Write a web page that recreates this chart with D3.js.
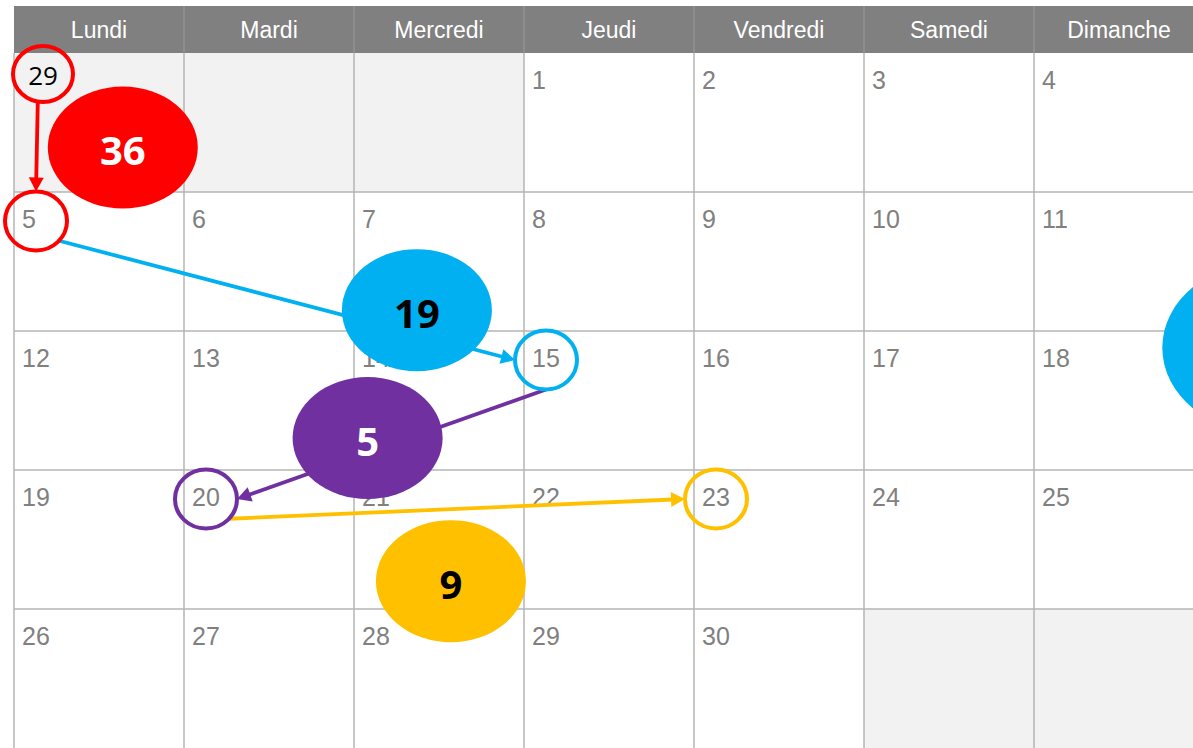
<!DOCTYPE html>
<html>
<head>
<meta charset="utf-8">
<script src="https://cdn.jsdelivr.net/npm/d3@7"></script>
<style>
  body { margin: 0; background: #fff; }
  svg { display: block; }
</style>
</head>
<body>
<svg id="cal"></svg>
<script>
const weekdays = ['Lundi', 'Mardi', 'Mercredi', 'Jeudi', 'Vendredi', 'Samedi', 'Dimanche'];
const weeks = [
  [null, null, null, 1, 2, 3, 4],
  [5, 6, 7, 8, 9, 10, 11],
  [12, 13, 14, 15, 16, 17, 18],
  [19, 20, 21, 22, 23, 24, 25],
  [26, 27, 28, 29, 30, null, null]
];

// circled dates (week row, weekday column)
const stopLabels = ['29', '5', '15', '20', '23'];
const stopWeek = [0, 1, 2, 3, 3];
const stopDow = [0, 0, 3, 1, 4];

// number of days for each leg + bubble placement in grid units
const legValues = [36, 19, 5, 9];
const legColors = ['#ff0000', '#00b0f0', '#7030a0', '#ffc000'];
const legText = ['#fff', '#000', '#fff', '#000'];
const bubbleCol = [0.64, 2.37, 2.08, 2.57];
const bubbleRow = [0.68, 1.85, 2.77, 3.80];

// bubble cut by the right edge
const extraCol = [7.39];
const extraRow = [2.12];

const W = 1193, H = 748;
const startAng = [100, 42, 90, 42];  // where each arrow leaves its ring
const endAng = [-90, 180, 0, 180];    // where it hits the next one

const svg = d3.select('#cal').attr('width', W).attr('height', H);

const x = d3.scaleLinear().domain([0, 7]).range([14, 1204]);
const y = d3.scaleLinear().domain([0, 5]).range([53, 748]);
const cw = x(1) - x(0), ch = y(1) - y(0);

// cells
const cells = [];
weeks.forEach((wk, w) => wk.forEach((d, i) => cells.push({ w, i, d })));

svg.append('g').selectAll('rect')
  .data(cells)
  .enter()
  .append('rect')
  .attr('x', c => x(c.i))
  .attr('y', c => y(c.w))
  .attr('width', cw)
  .attr('height', ch)
  .attr('fill', c => c.d === null ? '#f2f2f2' : '#fff');

const grid = svg.append('g').attr('stroke', '#b5b5b5').attr('stroke-width', 1.5);
grid.selectAll('.v').data(d3.range(8)).enter().append('line')
  .attr('x1', i => x(i)).attr('x2', i => x(i))
  .attr('y1', y(0)).attr('y2', H);
grid.selectAll('.h').data(d3.range(1, 5)).enter().append('line')
  .attr('x1', x(0)).attr('x2', x(7))
  .attr('y1', j => y(j)).attr('y2', j => y(j));

// header
svg.append('rect')
  .attr('x', x(0)).attr('y', 6)
  .attr('width', x(7) - x(0)).attr('height', y(0) - 6)
  .attr('fill', '#808080');
svg.append('g').selectAll('line')
  .data(d3.range(1, 7)).enter().append('line')
  .attr('x1', i => x(i)).attr('x2', i => x(i))
  .attr('y1', 6).attr('y2', y(0))
  .attr('stroke', '#929292').attr('stroke-width', 1.5);
svg.append('g').selectAll('text')
  .data(weekdays).enter().append('text')
  .attr('x', (d, i) => x(i + 0.5))
  .attr('y', 38)
  .attr('text-anchor', 'middle')
  .attr('fill', '#fff')
  .style('font', '23px "Liberation Sans", Arial, sans-serif')
  .text(d => d);

// day numbers
svg.append('g').selectAll('text')
  .data(cells.filter(c => c.d !== null)).enter().append('text')
  .attr('x', c => x(c.i) + 8)
  .attr('y', c => y(c.w) + 36)
  .attr('fill', '#808080')
  .style('font', '25px "Liberation Sans", Arial, sans-serif')
  .text(c => c.d);

// ring centres
const rings = stopLabels.map((lab, k) => {
  const prev = weeks[stopWeek[k]][stopDow[k]] === null;
  return {
    lab, prev,
    cx: x(stopDow[k]) + (prev ? 29 : 22),
    cy: y(stopWeek[k]) + (prev ? 21 : 29),
    rx: prev ? 30 : 31,
    ry: prev ? 28 : 29.5
  };
});

const onRing = (r, deg) => {
  const a = deg * Math.PI / 180;
  return [r.cx + r.rx * Math.cos(a), r.cy + r.ry * Math.sin(a)];
};

// arrows
const arrows = svg.append('g');
legValues.forEach((v, k) => {
  const p0 = onRing(rings[k], startAng[k]);
  const p1 = onRing(rings[k + 1], endAng[k]);
  const dx = p1[0] - p0[0], dy = p1[1] - p0[1];
  const len = Math.hypot(dx, dy);
  const ux = dx / len, uy = dy / len;
  const hl = 14, hw = 7.5;
  const base = [p1[0] - ux * hl, p1[1] - uy * hl];
  arrows.append('line')
    .attr('x1', p0[0]).attr('y1', p0[1])
    .attr('x2', base[0] + ux * 2).attr('y2', base[1] + uy * 2)
    .attr('stroke', legColors[k])
    .attr('stroke-width', 3.8);
  arrows.append('path')
    .attr('d', d3.line()([
      p1,
      [base[0] - uy * hw, base[1] + ux * hw],
      [base[0] + uy * hw, base[1] - ux * hw]
    ]) + 'Z')
    .attr('fill', legColors[k]);
});

// rings: each one takes the colour of the leg arriving at it (first: the leg leaving)
svg.append('g').selectAll('ellipse')
  .data(rings).enter().append('ellipse')
  .attr('cx', r => r.cx).attr('cy', r => r.cy)
  .attr('rx', r => r.rx).attr('ry', r => r.ry)
  .attr('fill', 'none')
  .attr('stroke', (r, k) => legColors[Math.max(0, k - 1)])
  .attr('stroke-width', 4);

svg.append('g').selectAll('text')
  .data(rings.filter(r => r.prev)).enter().append('text')
  .attr('x', r => r.cx).attr('y', r => r.cy + 1)
  .attr('text-anchor', 'middle')
  .attr('dominant-baseline', 'central')
  .attr('fill', '#000')
  .style('font', '26px "Open Sans", "Noto Sans", sans-serif')
  .text(r => r.lab);

// bubbles
const bub = svg.append('g');
bub.selectAll('ellipse.extra')
  .data(extraCol).enter().append('ellipse')
  .attr('cx', (c, i) => x(c)).attr('cy', (c, i) => y(extraRow[i]))
  .attr('rx', 108).attr('ry', 87)
  .attr('fill', legColors[1]);

bub.selectAll('ellipse.leg')
  .data(legValues).enter().append('ellipse')
  .attr('cx', (v, i) => x(bubbleCol[i]))
  .attr('cy', (v, i) => y(bubbleRow[i]))
  .attr('rx', 75).attr('ry', 61)
  .attr('fill', (v, i) => legColors[i]);

bub.selectAll('text')
  .data(legValues).enter().append('text')
  .attr('x', (v, i) => x(bubbleCol[i]))
  .attr('y', (v, i) => y(bubbleRow[i]) + 2)
  .attr('text-anchor', 'middle')
  .attr('dominant-baseline', 'central')
  .attr('fill', (v, i) => legText[i])
  .style('font', 'bold 40px "Open Sans", "Noto Sans", sans-serif')
  .text(v => v);
</script>
</body>
</html>
